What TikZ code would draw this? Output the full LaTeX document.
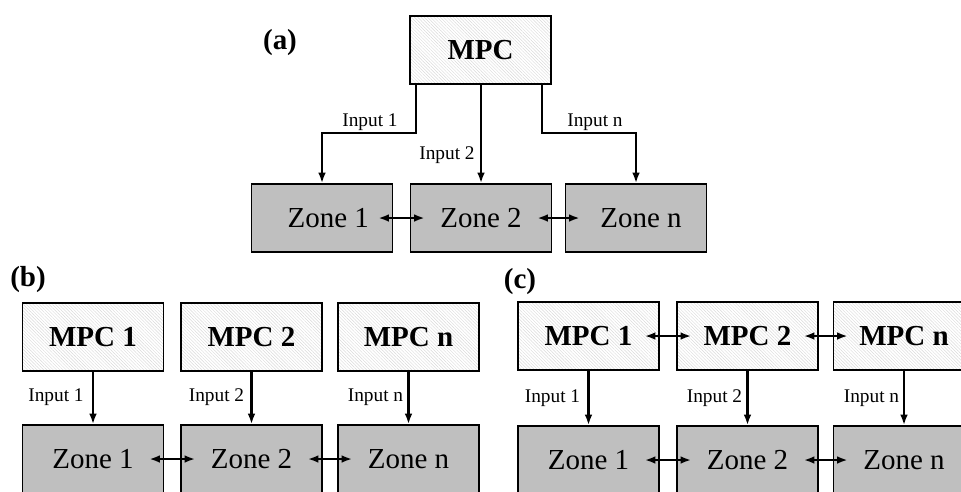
\documentclass[tikz,border=0pt]{standalone}
\usepackage{fontspec}
\setmainfont{Liberation Serif}
\usepackage{tikz}
\usetikzlibrary{arrows.meta,patterns.meta,calc}

\tikzset{
  mpcbox/.style={draw, line width=1pt, fill=gray!9,
    pattern={Lines[angle=-45,distance=1.3pt,line width=0.25pt]}, pattern color=gray!30,
    minimum width=2.82cm, minimum height=1.36cm, inner sep=0pt,
    font=\fontsize{16.5}{19}\selectfont\bfseries},
  zonebox/.style={draw, line width=1pt, fill=black!25,
    minimum width=2.82cm, minimum height=1.36cm, inner sep=0pt,
    font=\fontsize{16.5}{19}\selectfont},
  inlabel/.style={font=\fontsize{11}{12}\selectfont, inner sep=0pt},
  tag/.style={font=\fontsize{16.5}{19}\selectfont\bfseries, inner sep=0pt},
  arr/.style={line width=1.3pt, -{Latex[length=6pt,width=4.4pt]}},
  dbl/.style={line width=1.3pt, {Latex[length=6pt,width=4.4pt]}-{Latex[length=6pt,width=4.4pt]}}
}

\begin{document}
\begin{tikzpicture}[x=0.02cm, y=-0.02cm]
\useasboundingbox (0,0) rectangle (961,491);
\clip (0,0) rectangle (961,491);

% (a)
\node[tag] (taga) at (280,43) {(a)};
\node[mpcbox] (mpc) at (480.5,50) {MPC};
\node[zonebox] (za1) at (322,218) {\hspace*{0.25cm}Zone 1};
\node[zonebox] (za2) at (481,218) {Zone 2};
\node[zonebox] (zan) at (636,218) {\hspace*{0.2cm}Zone n};
\draw[arr] ([xshift=0.12cm]mpc.south west) -- ++(0,49) -| (za1.north);
\draw[arr] (mpc.south -| za2.north) -- (za2.north);
\draw[arr] ([xshift=-0.18cm]mpc.south east) -- ++(0,49) -| (zan.north);
\node[inlabel] (ina1) at (370,122) {Input 1};
\node[inlabel] (ina2) at (447,155) {Input 2};
\node[inlabel] (inan) at (595,122) {Input n};
\draw[dbl] ([xshift=-0.3cm]za1.east) -- ([xshift=0.3cm]za2.west);
\draw[dbl] ([xshift=-0.3cm]za2.east) -- ([xshift=0.3cm]zan.west);

% (b)
\node[tag] (tagb) at (28,280) {(b)};
\node[mpcbox] (mb1) at (93,337) {MPC 1};
\node[mpcbox] (mb2) at (251.5,337) {MPC 2};
\node[mpcbox] (mbn) at (408.5,337) {MPC n};
\node[zonebox] (zb1) at (93,459) {Zone 1};
\node[zonebox] (zb2) at (251.5,459) {Zone 2};
\node[zonebox] (zbn) at (408.5,459) {Zone n};
\draw[arr] (mb1.south) -- (zb1.north);
\draw[arr] (mb2.south) -- (zb2.north);
\draw[arr] (mbn.south) -- (zbn.north);
\node[inlabel] (inb1) at (56,397) {Input 1};
\node[inlabel] (inb2) at (216.5,397) {Input 2};
\node[inlabel] (inbn) at (375.5,397) {Input n};
\draw[dbl] ([xshift=-0.3cm]zb1.east) -- ([xshift=0.3cm]zb2.west);
\draw[dbl] ([xshift=-0.3cm]zb2.east) -- ([xshift=0.3cm]zbn.west);

% (c)
\node[tag] (tagc) at (520,282) {(c)};
\node[mpcbox] (mc1) at (588.5,336) {MPC 1};
\node[mpcbox] (mc2) at (747.5,336) {MPC 2};
\node[mpcbox] (mcn) at (904,336) {MPC n};
\node[zonebox] (zc1) at (588.5,460) {Zone 1};
\node[zonebox] (zc2) at (747.5,460) {Zone 2};
\node[zonebox] (zcn) at (904,460) {Zone n};
\draw[arr] (mc1.south) -- (zc1.north);
\draw[arr] (mc2.south) -- (zc2.north);
\draw[arr] (mcn.south) -- (zcn.north);
\node[inlabel] (inc1) at (552.5,398) {Input 1};
\node[inlabel] (inc2) at (714.5,398) {Input 2};
\node[inlabel] (incn) at (871.5,398) {Input n};
\draw[dbl] ([xshift=-0.3cm]mc1.east) -- ([xshift=0.3cm]mc2.west);
\draw[dbl] ([xshift=-0.3cm]mc2.east) -- ([xshift=0.3cm]mcn.west);
\draw[dbl] ([xshift=-0.3cm]zc1.east) -- ([xshift=0.3cm]zc2.west);
\draw[dbl] ([xshift=-0.3cm]zc2.east) -- ([xshift=0.3cm]zcn.west);
\end{tikzpicture}
\end{document}
